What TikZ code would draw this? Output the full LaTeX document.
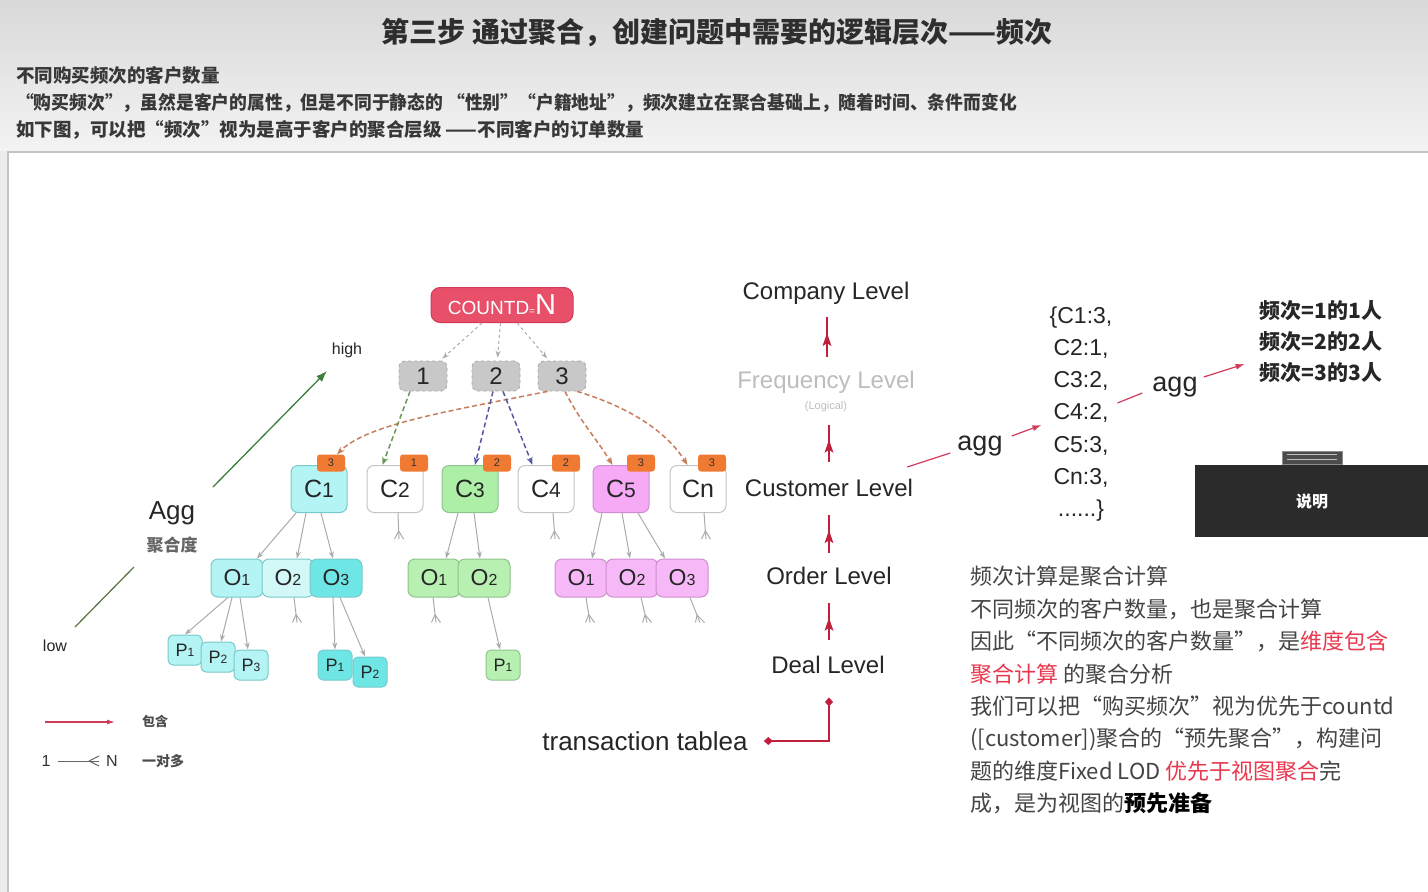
\documentclass[tikz,border=0pt]{standalone}
\usepackage{fontspec}
\setmainfont{Liberation Sans}
\newfontfamily\cjk{Noto Sans CJK SC}
\usetikzlibrary{arrows.meta,calc,shapes.geometric}
\newcommand\fsz[2]{\fontsize{#1}{#2}\selectfont}
\definecolor{bgout}{HTML}{EDEDED}
\definecolor{hdrtop}{HTML}{D9D9D9}
\definecolor{hdrbot}{HTML}{F3F3F3}
\definecolor{panelborder}{HTML}{C4C4C4}
\definecolor{titlec}{HTML}{2E2E2E}
\definecolor{subc}{HTML}{383838}
\definecolor{countdfill}{HTML}{E8506A}
\definecolor{countdborder}{HTML}{D03C58}
\definecolor{cloudfill}{HTML}{C8C8C8}
\definecolor{cloudborder}{HTML}{A8A8A8}
\definecolor{badge}{HTML}{F07A32}
\definecolor{cyanA}{HTML}{B4F4F4}
\definecolor{cyanB}{HTML}{D2F8F8}
\definecolor{cyanC}{HTML}{6EE6E6}
\definecolor{cyanborder}{HTML}{78CACA}
\definecolor{greenA}{HTML}{AEEFA8}
\definecolor{greenB}{HTML}{B8F0B2}
\definecolor{greenborder}{HTML}{8CC48C}
\definecolor{pinkA}{HTML}{F6AAF6}
\definecolor{pinkB}{HTML}{F6B8F6}
\definecolor{pinkborder}{HTML}{D08ED0}
\definecolor{wborder}{HTML}{C4C4C4}
\definecolor{conngray}{HTML}{ABABAB}
\definecolor{dorange}{HTML}{C87D5A}
\definecolor{dgreen}{HTML}{6A9A58}
\definecolor{dblue}{HTML}{5858A2}
\definecolor{levred}{HTML}{C0203C}
\definecolor{aggred}{HTML}{D23A5A}
\definecolor{lowgreen}{HTML}{5E7A4A}
\definecolor{highgreen}{HTML}{3C7E3E}
\definecolor{txtgray}{HTML}{444444}
\definecolor{hlred}{HTML}{E8384F}
\definecolor{freqgray}{HTML}{BDBDBD}
\definecolor{boxdark}{HTML}{2B2B2B}
\newcommand\crowfoot[2]{%
  \coordinate (cfs) at #1;
  \draw[stub] (cfs) -- ++#2 coordinate (cfe);
  \coordinate (cfm) at ($(cfe)!8pt!(cfs)$);
  \draw[stub] (cfm) -- ($(cfe)+(-4.5,0)$) (cfm) -- ($(cfe)+(4.5,0)$);
}
\newcommand\levarr[2]{%
  \coordinate (las) at #1;
  \coordinate (lae) at #2;
  \draw[levline] (las) -- (lae);
  \coordinate (lam) at ($(las)!0.6!(lae)$);
  \fill[levred] (lam) -- ($(lam)+(-4.5,13)$) -- ($(lam)+(0,10)$) -- ($(lam)+(4.5,13)$) -- cycle;
}
\begin{document}
\begin{tikzpicture}[x=1pt,y=-1pt,
  cbox/.style={draw=wborder, line width=1pt, rounded corners=7pt, minimum width=56pt, minimum height=47pt, inner sep=0pt, font=\fsz{25}{25}, text=black!85},
  obox/.style={line width=1pt, rounded corners=7pt, minimum width=52pt, minimum height=38pt, inner sep=0pt, font=\fsz{23}{23}, text=black!85},
  pbox/.style={line width=1pt, rounded corners=5pt, minimum width=34pt, minimum height=30pt, inner sep=0pt, font=\fsz{18}{18}, text=black!85},
  badgebox/.style={fill=badge, rounded corners=3pt, minimum width=28pt, minimum height=17pt, inner sep=0pt, font=\fsz{11}{11}, text=black!80},
  cloudbox/.style={fill=cloudfill, draw=cloudborder, dashed, line width=0.8pt, rounded corners=6pt, minimum width=48pt, minimum height=30pt, inner sep=0pt, font=\fsz{24}{24}, text=black!85},
  gconn/.style={draw=conngray, line width=1pt, -{Stealth[length=7pt,width=5pt]}},
  dconn/.style={line width=1.5pt, dash pattern=on 5pt off 3pt, -{Stealth[length=8pt,width=6pt]}},
  stub/.style={draw=conngray, line width=1pt},
  lev/.style={font=\fsz{24}{24}, text=black!85, inner sep=0pt, text height=17.5pt, text depth=5pt},
  levline/.style={draw=levred, line width=1.1pt},
  redlink/.style={draw=aggred, line width=1.2pt}
]
\useasboundingbox (0,0) rectangle (1428,892);
% background
\fill[bgout] (0,0) rectangle (1428,892);
\shade[top color=hdrtop, bottom color=hdrbot] (0,0) rectangle (1428,150);
\fill[white] (8,152) rectangle (1434,898);
\draw[panelborder, line width=1.5pt] (8,898) -- (8,152) -- (1434,152);

% header texts
\node[font=\cjk\bfseries\fsz{28}{30}, text=titlec] (title) at (717,33) {第三步\ 通过聚合，创建问题中需要的逻辑层次——频次};
\node[anchor=west, font=\cjk\bfseries\fsz{18.5}{22}, text=subc, inner sep=0pt] (s1) at (16,75) {不同购买频次的客户数量};
\node[anchor=west, font=\cjk\bfseries\fsz{18.5}{22}, text=subc, inner sep=0pt] (s2) at (16,103) {\scalebox{0.962}[1]{“购买频次”，虽然是客户的属性，但是不同于静态的 “性别”“户籍地址”，频次建立在聚合基础上，随着时间、条件而变化}};
\node[anchor=west, font=\cjk\bfseries\fsz{18.5}{22}, text=subc, inner sep=0pt] (s3) at (16,130) {如下图，可以把“频次”视为是高于客户的聚合层级 ——不同客户的订单数量};

% top of tree
\node[fill=countdfill, draw=countdborder, line width=1pt, rounded corners=9pt, minimum width=142pt, minimum height=35pt, inner sep=0pt, text=white] (cd) at (502,305) {{\fsz{19}{19}COUNTD}{\fsz{10}{10}=}{\fsz{29}{29}N}};
\node[cloudbox] (n1) at (423,376) {1};
\node[cloudbox] (n2) at (496,376) {2};
\node[cloudbox] (n3) at (562,376) {3};
\draw[gconn, dashed, shorten >=3pt] (cd) -- (n1);
\draw[gconn, dashed, shorten >=3pt] (cd) -- (n2);
\draw[gconn, dashed, shorten >=3pt] (cd) -- (n3);

% customers
\node[cbox, fill=cyanA, draw=cyanborder] (C1) at (319,489) {C{\fsz{21}{21}1}};
\node[cbox, fill=white] (C2) at (395,489) {C{\fsz{21}{21}2}};
\node[cbox, fill=greenA, draw=greenborder] (C3) at (470,489) {C{\fsz{21}{21}3}};
\node[cbox, fill=white] (C4) at (546,489) {C{\fsz{21}{21}4}};
\node[cbox, fill=pinkA, draw=pinkborder] (C5) at (621,489) {C{\fsz{21}{21}5}};
\node[cbox, fill=white] (Cn) at (698,489) {Cn};
\node[badgebox] (b1) at (331,463) {3};
\node[badgebox] (b2) at (414,463) {1};
\node[badgebox] (b3) at (497,463) {2};
\node[badgebox] (b4) at (566,463) {2};
\node[badgebox] (b5) at (641,463) {3};
\node[badgebox] (b6) at (712,463) {3};

% dashed frequency connectors
\draw[dconn, draw=dorange] ([xshift=10]n3.south west) .. controls +(-100,20) and +(30,-30) .. ([xshift=6]b1.north);
\draw[dconn, draw=dgreen] ([xshift=-13]n1.south) -- ([xshift=16]C2.north west);
\draw[dconn, draw=dblue] ([xshift=-3]n2.south) -- ([xshift=5]C3.north);
\draw[dconn, draw=dblue] ([xshift=7]n2.south) -- ([xshift=15]C4.north west);
\draw[dconn, draw=dorange] ([xshift=3]n3.south) .. controls +(15,30) and +(-15,-25) .. ([xshift=20]C5.north west);
\draw[dconn, draw=dorange] ([xshift=15]n3.south) .. controls +(50,15) and +(-22,-35) .. ([xshift=18]Cn.north west);

% orders
\node[obox, fill=cyanA, draw=cyanborder] (O1a) at (237,578) {O{\fsz{16}{16}1}};
\node[obox, fill=cyanB, draw=cyanborder] (O2a) at (288,578) {O{\fsz{16}{16}2}};
\node[obox, fill=cyanC, draw=cyanborder] (O3a) at (336,578) {O{\fsz{16}{16}3}};
\node[obox, fill=greenB, draw=greenborder] (O1b) at (434,578) {O{\fsz{16}{16}1}};
\node[obox, fill=greenB, draw=greenborder] (O2b) at (484,578) {O{\fsz{16}{16}2}};
\node[obox, fill=pinkB, draw=pinkborder] (O1c) at (581,578) {O{\fsz{16}{16}1}};
\node[obox, fill=pinkB, draw=pinkborder] (O2c) at (632,578) {O{\fsz{16}{16}2}};
\node[obox, fill=pinkB, draw=pinkborder] (O3c) at (682,578) {O{\fsz{16}{16}3}};

% products
\node[pbox, fill=cyanA, draw=cyanborder] (P1a) at (185,650) {P{\fsz{12}{12}1}};
\node[pbox, fill=cyanA, draw=cyanborder] (P2a) at (218,657) {P{\fsz{12}{12}2}};
\node[pbox, fill=cyanA, draw=cyanborder] (P3a) at (251,665) {P{\fsz{12}{12}3}};
\node[pbox, fill=cyanC, draw=cyanborder] (P1b) at (335,665) {P{\fsz{12}{12}1}};
\node[pbox, fill=cyanC, draw=cyanborder] (P2b) at (370,672) {P{\fsz{12}{12}2}};
\node[pbox, fill=greenB, draw=greenborder] (P1c) at (503,665) {P{\fsz{12}{12}1}};

% customer -> order
\draw[gconn] ([xshift=-23]C1.south) -- ([xshift=20]O1a.north);
\draw[gconn] ([xshift=-13]C1.south) -- ([xshift=9]O2a.north);
\draw[gconn] ([xshift=2]C1.south) -- ([xshift=-3]O3a.north);
\draw[gconn] ([xshift=-12]C3.south) -- ([xshift=12]O1b.north);
\draw[gconn] ([xshift=4]C3.south) -- ([xshift=-4]O2b.north);
\draw[gconn] ([xshift=-19]C5.south) -- ([xshift=11]O1c.north);
\draw[gconn] ([xshift=1]C5.south) -- ([xshift=-2]O2c.north);
\draw[gconn] ([xshift=17]C5.south) -- ([xshift=-17]O3c.north);
% order -> product
\draw[gconn] ([xshift=-9]O1a.south) -- (P1a.north);
\draw[gconn] ([xshift=-5]O1a.south) -- ([xshift=3]P2a.north);
\draw[gconn] ([xshift=3]O1a.south) -- ([xshift=-3]P3a.north);
\draw[gconn] ([xshift=-3]O3a.south) -- (P1b.north);
\draw[gconn] ([xshift=4]O3a.south) -- ([xshift=-5]P2b.north);
\draw[gconn] ([xshift=4]O2b.south) -- ([xshift=-3]P1c.north);

% one-to-many stubs
\crowfoot{([xshift=3]C2.south)}{(1,26)}
\crowfoot{([xshift=7]C4.south)}{(2,26)}
\crowfoot{([xshift=6]Cn.south)}{(2,26)}
\crowfoot{([xshift=6]O2a.south)}{(3,25)}
\crowfoot{([xshift=-1]O1b.south)}{(3,25)}
\crowfoot{([xshift=5]O1c.south)}{(4,25)}
\crowfoot{([xshift=9]O2c.south)}{(6,25)}
\crowfoot{([xshift=8]O3c.south)}{(10,25)}

% aggregation degree axis
\coordinate (lowend) at (75,627);
\coordinate (lowmid) at (134,567);
\coordinate (highmid) at (213,487);
\coordinate (highend) at (327,371);
\draw[lowgreen, line width=1.3pt] (lowend) -- (lowmid);
\draw[highgreen, line width=1.3pt, -{Latex[length=11pt,width=8pt]}] (highmid) -- (highend);
\node[font=\fsz{26}{26}, text=black!85, inner sep=0pt] (aggt) at (172,513) {Agg};
\node[font=\cjk\bfseries\fsz{17}{17}, text=black!60, inner sep=0pt] (aggc) at (172,545) {聚合度};
\node[font=\fsz{16}{16}, text=black!85, inner sep=0pt] (high) at (347,350) {high};
\node[font=\fsz{16}{16}, text=black!85, inner sep=0pt] (low) at (55,646) {low};

% legend
\coordinate (la1) at (45,722);
\coordinate (la2) at (115,722);
\draw[redlink, -{Latex[length=8pt,width=5pt]}] (la1) -- (la2);
\node[font=\cjk\bfseries\fsz{13}{13}, text=black!70, inner sep=0pt] (lgA) at (155,721) {包含};
\node[font=\fsz{16}{16}, text=black!80, inner sep=0pt] (one) at (46,761) {1};
\node[font=\fsz{16}{16}, text=black!80, inner sep=0pt] (manyN) at (112,761) {N};
\draw[stub, draw=black!60] ([xshift=7]one.east) -- ([xshift=-7]manyN.west) coordinate (lgE);
\draw[stub, draw=black!60] ($(lgE)+(-10,0)$) -- ($(lgE)+(0,-5)$) ($(lgE)+(-10,0)$) -- ($(lgE)+(0,5)$);
\node[font=\cjk\bfseries\fsz{14}{14}, text=black!70, inner sep=0pt] (lgB) at (163,761) {一对多};

% levels
\node[lev] (L1) at (826,293) {Company Level};
\node[lev, text=freqgray] (L2) at (826,382) {Frequency Level};
\node[font=\fsz{11}{11}, text=freqgray, inner sep=0pt] (L2b) at (826,407) {(Logical)};
\node[lev] (L3) at (829,490) {Customer Level};
\node[lev] (L4) at (829,578) {Order Level};
\node[lev] (L5) at (828,667) {Deal Level};
\node[font=\fsz{26}{26}, text=black!85, inner sep=0pt] (T) at (645,741) {transaction tablea};
\levarr{([xshift=1,yshift=14]L2.north)}{([xshift=1,yshift=-13]L1.south)}
\levarr{([yshift=17]L3.north)}{([xshift=3,yshift=-13]L2b.south)}
\levarr{([yshift=14]L4.north)}{([yshift=-14]L3.south)}
\levarr{([xshift=1,yshift=16]L5.north)}{([yshift=-14]L4.south)}
\draw[levline, {Diamond[length=9pt,width=8pt]}-{Diamond[length=9pt,width=8pt]}] ([xshift=1,yshift=-19]L5.south) |- ([xshift=16]T.east);

% aggregation chain
\node[font=\fsz{27}{27}, text=black!85, inner sep=0pt] (agg1) at (980,446) {agg};
\node[align=center, font=\fsz{23}{32.2}, text=black!85, inner sep=0pt] (list) at (1081,414) {\{C1:3,\\C2:1,\\C3:2,\\C4:2,\\C5:3,\\Cn:3,\\......\}};
\node[font=\fsz{27}{27}, text=black!85, inner sep=0pt] (agg2) at (1175,387) {agg};
\node[align=center, font=\cjk\bfseries\fsz{21}{31}, text=black!85, inner sep=0pt] (R) at (1321,342) {频次=1的1人\\频次=2的2人\\频次=3的3人};
\draw[redlink] ([xshift=-6,yshift=23]L3.east) -- ([xshift=-7,yshift=-7]agg1.west);
\draw[redlink, -{Latex[length=9pt,width=6pt]}] ([xshift=9,yshift=10]agg1.east) -- ([xshift=-8,yshift=-11]list.west);
\draw[redlink] ([xshift=5,yshift=11]list.east) -- ([xshift=-10,yshift=-6]agg2.west);
\draw[redlink, -{Latex[length=9pt,width=6pt]}] ([xshift=6,yshift=10]agg2.east) -- ([xshift=-15,yshift=-22]R.west);

% note box
\node[fill=boxdark, minimum width=240pt, minimum height=72pt, inner sep=0pt, anchor=north west] (sm) at (1195,465) {};
\node[font=\cjk\bfseries\fsz{16}{16}, text=white, inner sep=0pt] (smt) at (1312,501) {说明};
\node[fill=black!70, draw=black!45, line width=0.8pt, minimum width=60pt, minimum height=13pt, inner sep=0pt, anchor=south] (tab) at (1312,465) {};
\draw[black!25, line width=1pt] ([xshift=5,yshift=-3.5]tab.north west) -- ([xshift=-5,yshift=-3.5]tab.north east);
\draw[black!25, line width=1pt] ([xshift=5,yshift=-8.5]tab.north west) -- ([xshift=-5,yshift=-8.5]tab.north east);

% explanation
\node[anchor=north west, align=left, font=\cjk\fsz{22}{32.4}, text=txtgray, inner sep=0pt] (expl) at (970,566) {频次计算是聚合计算\\
不同频次的客户数量，也是聚合计算\\
因此“不同频次的客户数量”，是\textcolor{hlred}{维度包含}\\
\textcolor{hlred}{聚合计算} 的聚合分析\\
我们可以把“购买频次”视为优先于countd\\
([customer])聚合的“预先聚合”，构建问\\
题的维度Fixed LOD \textcolor{hlred}{优先于视图聚合}完\\
成，是为视图的{\bfseries\color{black}预先准备}};
\end{tikzpicture}
\end{document}
